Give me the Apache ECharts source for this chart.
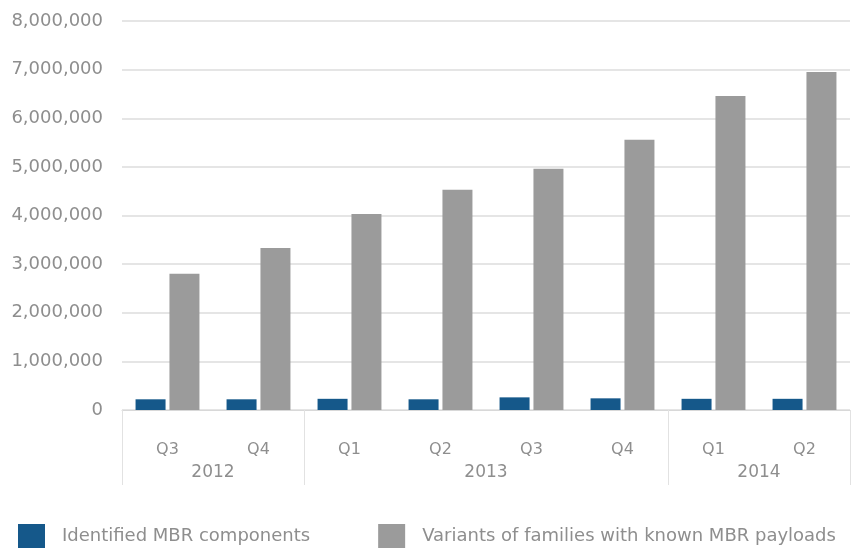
<!DOCTYPE html>
<html><head><meta charset="utf-8">
<script src="https://cdn.jsdelivr.net/npm/echarts@6/dist/echarts.min.js"></script>
<style>html,body{margin:0;padding:0;background:#fff}#c{width:862px;height:548px}</style>
</head><body><div id="c"></div>
<script>
const quarters = ["Q3","Q4","Q1","Q2","Q3","Q4","Q1","Q2"];
const yearSlots = ["","2012","","","2013","","","2014",""];
const yearBoundaries = [0,2,6,8];
const mbrComponents = [220000,220000,230000,220000,260000,240000,230000,230000];
const familyVariants = [2800000,3330000,4030000,4530000,4960000,5560000,6460000,6950000];
const seriesNames = ["Identified MBR components","Variants of families with known MBR payloads"];

const chart = echarts.init(document.getElementById('c'));
const txt = '#8e8e8e';
chart.setOption({
  animation:false,
  grid:{left:122,right:12,top:21,bottom:138},
  legend:{top:519,left:13,itemWidth:27,itemHeight:25,itemGap:68,icon:'rect',
    textStyle:{color:txt,fontSize:18,fontFamily:'DejaVu Sans',padding:[0,0,0,12]},data:seriesNames},
  xAxis:[
    {type:'category',data:quarters,position:'bottom',
     axisLine:{lineStyle:{color:'#d8d8d8'}},axisTick:{show:false},
     axisLabel:{color:txt,fontSize:16,fontFamily:'DejaVu Sans',margin:32}},
    {type:'category',data:yearSlots,position:'bottom',boundaryGap:false,
     axisLine:{show:false},
     axisTick:{show:true,length:75,lineStyle:{color:'#e2e2e2'},interval:(i)=>yearBoundaries.includes(i)},
     axisLabel:{color:txt,fontSize:17,fontFamily:'DejaVu Sans',margin:54,interval:0}}
  ],
  yAxis:{type:'value',min:0,max:8000000,interval:1000000,
    axisLine:{show:false},axisTick:{show:false},
    splitLine:{lineStyle:{color:'#dcdcdc',width:1.5}},
    axisLabel:{color:txt,fontSize:18,fontFamily:'DejaVu Sans',margin:19,
      formatter:(v)=>v.toLocaleString('en-US')}},
  series:[
    {name:seriesNames[0],type:'bar',data:mbrComponents,barWidth:30,barGap:'13%',itemStyle:{color:'#15588a'}},
    {name:seriesNames[1],type:'bar',data:familyVariants,barWidth:30,itemStyle:{color:'#9b9b9b'}}
  ]
});
</script></body></html>
